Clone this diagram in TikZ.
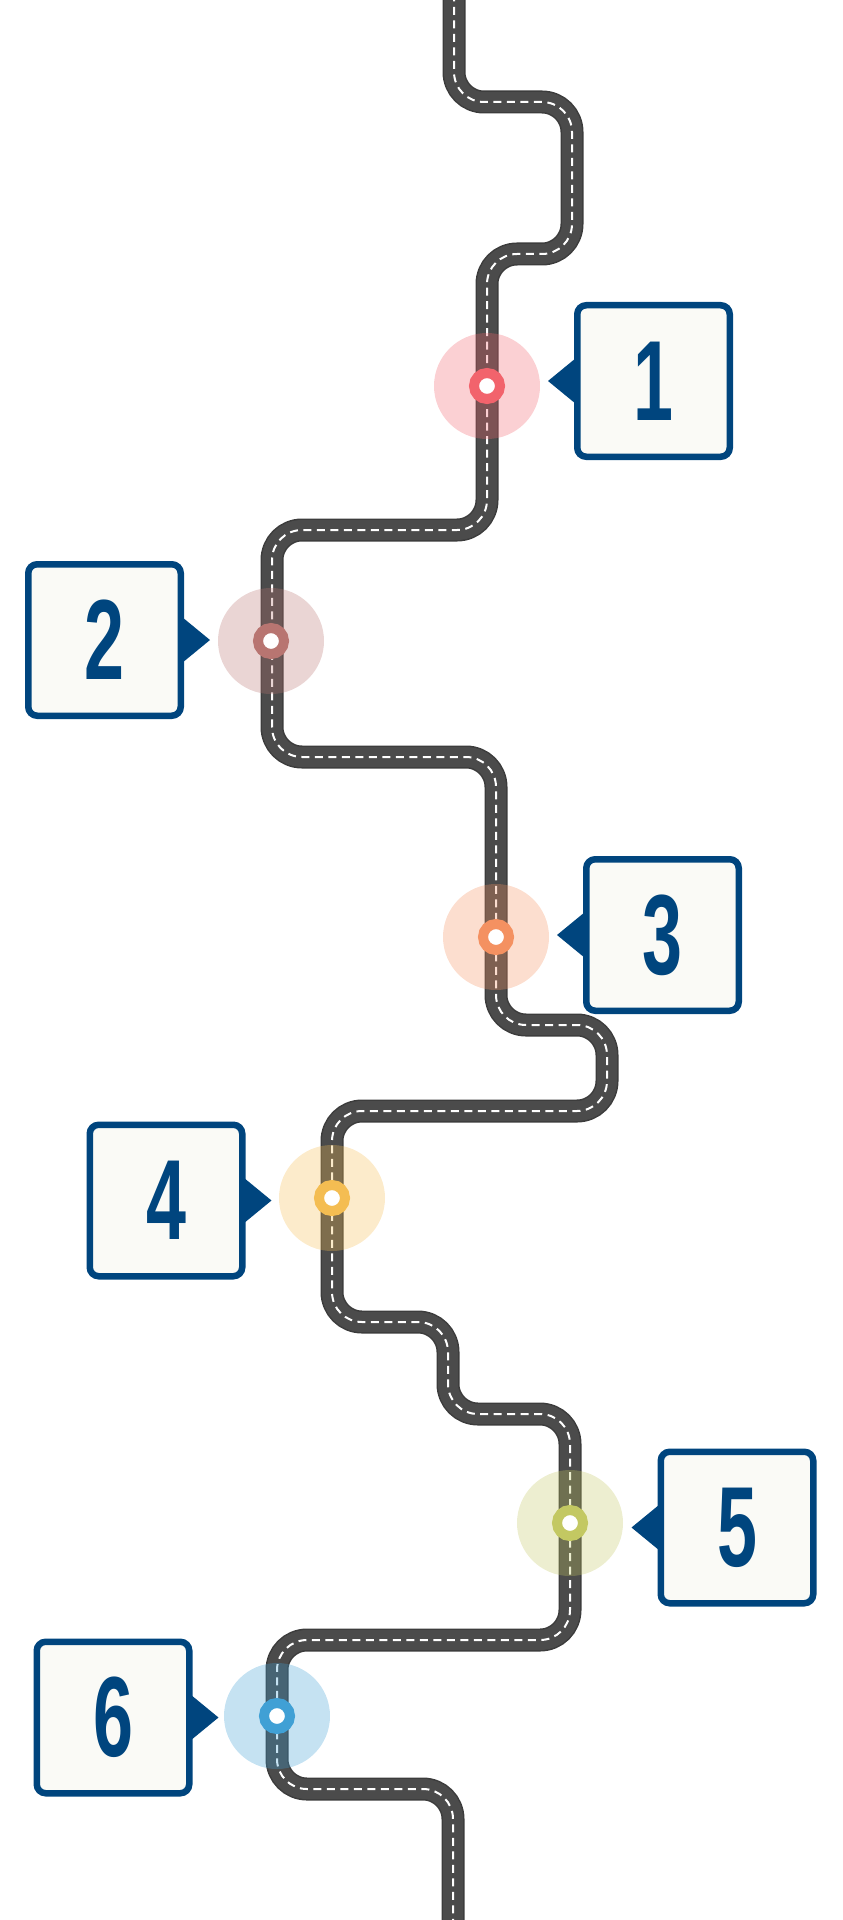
\documentclass[tikz,border=0pt]{standalone}
\usepackage{fontspec}
\usepackage{graphicx}
\newfontfamily\numfont{Liberation Sans}
\definecolor{roadc}{HTML}{4B4B4B}
\definecolor{roadedgec}{HTML}{3C3C3C}
\definecolor{navy}{HTML}{00457E}
\definecolor{boxfill}{HTML}{FAFAF6}
\definecolor{c1}{HTML}{F2636C}
\definecolor{c2}{HTML}{B87571}
\definecolor{c3}{HTML}{F49161}
\definecolor{c4}{HTML}{F4BD52}
\definecolor{c5}{HTML}{C3C862}
\definecolor{c6}{HTML}{40A0D5}
\newcommand\bignum[1]{\scalebox{0.63}[1]{#1}}
\tikzset{
  road/.style={draw=roadc, line width=10pt, rounded corners=15pt,
    preaction={draw=roadedgec, line width=11.5pt},
    postaction={draw=white, line width=1pt, dash pattern=on 4pt off 2.75pt}},
  halo/.style={circle, minimum size=53pt, inner sep=0pt, outer sep=0pt, draw=none, fill opacity=0.3},
  ring/.style={circle, minimum size=13pt, inner sep=0pt, outer sep=0pt, line width=5pt, fill=white},
  stepbox/.style={rectangle, draw=navy, fill=boxfill, line width=3.25pt, rounded corners=4.5pt,
    minimum width=76.25pt, minimum height=75.75pt, inner sep=0pt, text=navy,
    font=\numfont\bfseries\fontsize{57pt}{57pt}\selectfont},
  pointer/.style={fill=navy}
}
\begin{document}
\begin{tikzpicture}[x=0.5pt,y=-0.5pt]
\useasboundingbox (0,0) rectangle (842,1920);
% road
\draw[road] (454,-20) -- (454,102) -- (572,102) -- (572,254) -- (487,254) -- (487,530)
  -- (272,530) -- (272,757) -- (496,757) -- (496,1025) -- (607,1025) -- (607,1111)
  -- (332,1111) -- (332,1322) -- (448,1322) -- (448,1414) -- (570,1414) -- (570,1640)
  -- (277,1640) -- (277,1789) -- (453,1789) -- (453,1940);
% markers
\foreach \n/\x/\y/\c in {1/487/386/c1, 2/271/641/c2, 3/496/937/c3, 4/332/1198/c4, 5/570/1523/c5, 6/277/1716/c6}{
  \node[halo, fill=\c] (h\n) at (\x,\y) {};
  \node[ring, draw=\c] (m\n) at (\x,\y) {};
}
% boxes
\node[stepbox] (b1) at (653.5,381) {\bignum{1}};
\node[stepbox] (b2) at (104.5,640) {\bignum{2}};
\node[stepbox] (b3) at (662.5,935) {\bignum{3}};
\node[stepbox] (b4) at (166,1200.5) {\bignum{4}};
\node[stepbox] (b5) at (737,1527.5) {\bignum{5}};
\node[stepbox] (b6) at (113,1717.5) {\bignum{6}};
% pointers
\foreach \b in {b1,b3,b5}{
  \fill[pointer] ([xshift=1pt,yshift=11.5pt]\b.west) -- ([xshift=-13pt]\b.west) -- ([xshift=1pt,yshift=-11.5pt]\b.west) -- cycle;
}
\foreach \b in {b2,b4,b6}{
  \fill[pointer] ([xshift=-1pt,yshift=11.5pt]\b.east) -- ([xshift=13pt]\b.east) -- ([xshift=-1pt,yshift=-11.5pt]\b.east) -- cycle;
}
\end{tikzpicture}
\end{document}
